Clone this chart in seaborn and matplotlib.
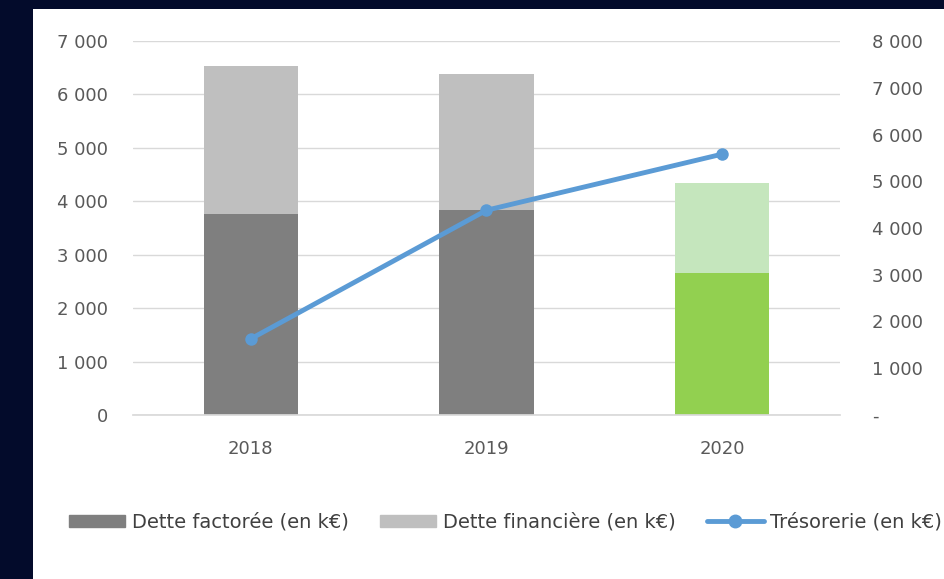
import numpy as np
import pandas as pd
import seaborn as sns
import matplotlib.pyplot as plt
from matplotlib.patches import Rectangle, Patch
from matplotlib.lines import Line2D
from matplotlib.ticker import FuncFormatter

years = ['2018', '2019', '2020']
dette_factoree = [3760, 3840, 2660]
dette_financiere = [2780, 2550, 1690]
tresorerie = [1630, 4380, 5580]

sns.set_theme(style='white')
plt.rcParams['font.family'] = ['DejaVu Sans']

txt_col = '#595959'
fig = plt.figure(figsize=(9.45, 5.79), dpi=100)
fig.patch.set_facecolor('#030b2b')
# white chart panel sitting on the dark slide
fig.add_artist(Rectangle((33 / 945, 0), 1, (579 - 9) / 579, transform=fig.transFigure,
                         facecolor='white', edgecolor='none', zorder=0))

ax = fig.add_axes([133 / 945, (579 - 415) / 579, 707 / 945, (415 - 41) / 579])
ax.set_facecolor('none')

df = pd.DataFrame({'year': years, 'fact': dette_factoree, 'fin': dette_financiere})
df['total'] = df['fact'] + df['fin']

sns.barplot(data=df, x='year', y='total', hue='year', palette=['#bfbfbf', '#bfbfbf', '#c5e6bd'],
            width=0.4, legend=False, saturation=1, linewidth=0, edgecolor='none', ax=ax)
sns.barplot(data=df, x='year', y='fact', hue='year', palette=['#7f7f7f', '#7f7f7f', '#92d050'],
            width=0.4, legend=False, saturation=1, linewidth=0, edgecolor='none', ax=ax)

ax.set_ylim(0, 7000)
ax.set_xlim(-0.5, 2.5)
ax.set_yticks(range(0, 7001, 1000))
fmt = lambda v, p: f'{int(v):,}'.replace(',', ' ')
ax.yaxis.set_major_formatter(FuncFormatter(fmt))
ax.grid(axis='y', color='#d9d9d9', linewidth=1)
ax.set_axisbelow(True)
for s in ['top', 'left', 'right']:
    ax.spines[s].set_visible(False)
ax.spines['bottom'].set_color('#d9d9d9')
ax.set_xlabel('')
ax.set_ylabel('')
ax.tick_params(axis='y', length=0, pad=18, labelsize=13, labelcolor=txt_col)
ax.tick_params(axis='x', length=0, pad=18, labelsize=13, labelcolor=txt_col)

ax2 = ax.twinx()
sns.lineplot(x=np.arange(len(years)), y=tresorerie, marker='o', color='#5b9bd5',
             linewidth=3.5, markersize=9, markeredgewidth=0, ax=ax2)
ax2.set_ylim(0, 8000)
ax2.set_yticks(range(0, 8001, 1000))
ax2.yaxis.set_major_formatter(FuncFormatter(lambda v, p: '-' if v == 0 else fmt(v, p)))
ax2.tick_params(axis='y', length=0, pad=23, labelsize=13, labelcolor=txt_col)
for s in ax2.spines.values():
    s.set_visible(False)
ax2.grid(False)

handles = [Patch(color='#7f7f7f'), Patch(color='#bfbfbf'),
           Line2D([0], [0], color='#5b9bd5', linewidth=3.5, marker='o', markersize=9)]
labels = ['Dette factorée (en k€)', 'Dette financière (en k€)', 'Trésorerie (en k€)']
fig.legend(handles, labels, loc='center', bbox_to_anchor=(0.535, 0.098), ncol=3,
           frameon=False, fontsize=14, labelcolor='#404040', handlelength=2.9,
           handleheight=0.55, handletextpad=0.35, columnspacing=1.6)

fig.savefig('out.png', dpi=100, facecolor=fig.get_facecolor())
